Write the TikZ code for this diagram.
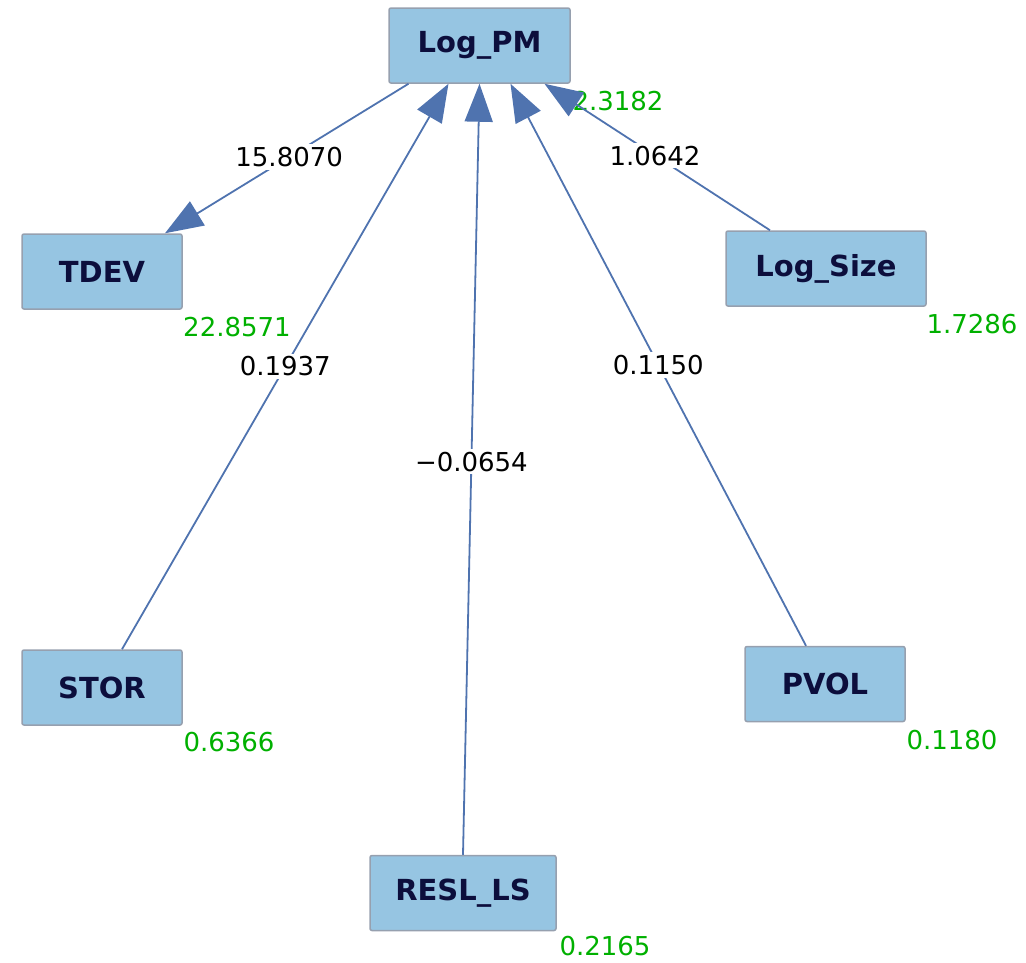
\documentclass[tikz,border=0pt]{standalone}
\usepackage{fontspec}
\setmainfont{DejaVu Sans}
\usetikzlibrary{arrows.meta}
\definecolor{boxfill}{RGB}{150,197,226}
\definecolor{boxline}{RGB}{150,160,175}
\definecolor{boxtext}{RGB}{12,14,60}
\definecolor{edgeblue}{RGB}{79,115,175}
\definecolor{valgreen}{RGB}{0,176,0}
\tikzset{
  var/.style={draw=boxline, line width=1.5pt, fill=boxfill, rounded corners=2pt,
    minimum height=75pt, inner sep=0pt, text=boxtext,
    font=\fontsize{29}{32}\selectfont\bfseries},
  path/.style={draw=edgeblue, line width=1.8pt},
  arr/.style={path, -{Triangle[length=38pt,width=28pt]}},
  coef/.style={fill=white, inner sep=3pt, text=black, font=\fontsize{26}{28}\selectfont},
  val/.style={text=valgreen, inner sep=0pt, font=\fontsize{26}{28}\selectfont},
}
\begin{document}
\begin{tikzpicture}[x=1pt,y=-1pt]
\useasboundingbox (0,0) rectangle (1026,962);
\node[var, minimum width=181pt] (pm) at (479.5,45.5) {Log\_PM};
\node[var, minimum width=160pt] (tdev) at (102,271.5) {TDEV};
\node[var, minimum width=200pt] (size) at (826,268.5) {Log\_Size};
\node[var, minimum width=160pt] (stor) at (102,687.5) {STOR};
\node[var, minimum width=160pt] (pvol) at (825,684) {PVOL};
\node[var, minimum width=186pt] (resl) at (463,893) {RESL\_LS};

\node[val] (vpm) at (618,101) {2.3182};
\node[val] (vtdev) at (237,327) {22.8571};
\node[val] (vsize) at (972,324) {1.7286};
\node[val] (vstor) at (229,742) {0.6366};
\node[val] (vpvol) at (952,740) {0.1180};
\node[val] (vresl) at (605,946) {0.2165};

\draw[arr] ([xshift=-71pt]pm.south) -- node[coef, pos=0.49] {15.8070} ([xshift=63pt]tdev.north);
\draw[arr] ([xshift=20pt]stor.north) -- node[coef, pos=0.5] {0.1937} ([xshift=-31pt]pm.south);
\draw[arr] ([xshift=0pt]resl.north) -- node[coef, pos=0.51] {−0.0654} ([xshift=0pt]pm.south);
\draw[arr] ([xshift=-19pt]pvol.north) -- node[coef, pos=0.5] {0.1150} ([xshift=31pt]pm.south);
\draw[arr] ([xshift=-56pt]size.north) -- node[coef, pos=0.51] {1.0642} ([xshift=65pt]pm.south);
\end{tikzpicture}
\end{document}
